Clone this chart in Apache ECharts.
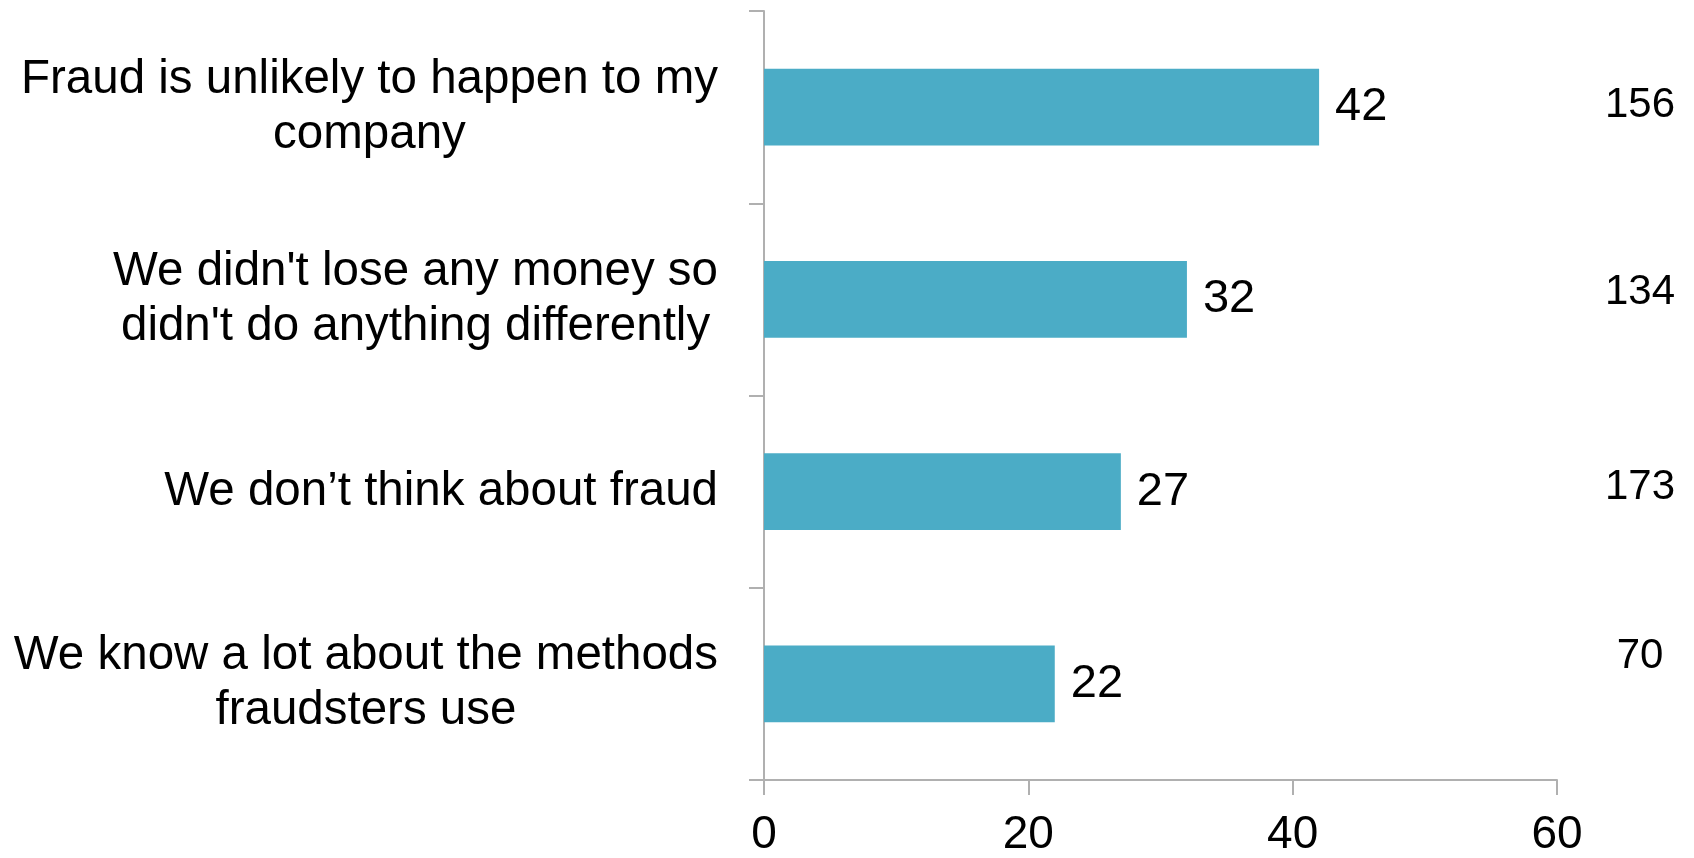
<!DOCTYPE html>
<html>
<head>
<meta charset="utf-8">
<style>
  html, body { margin: 0; padding: 0; background: #ffffff; }
  #chart { width: 1694px; height: 858px; }
</style>
<script src="https://cdn.jsdelivr.net/npm/echarts@6/dist/echarts.min.js"></script>
</head>
<body>
<div id="chart"></div>
<script>
// Reasons given, top to bottom
const categories = [
  'Fraud is unlikely to happen to my\ncompany',
  "We didn't lose any money so\ndidn't do anything differently",
  'We don\u2019t think about fraud',
  'We know a lot about the methods\nfraudsters use'
];
// Percentage of respondents
const percentages = [42, 32, 27, 22];
// Respondent counts shown in the right-hand column
const counts = ['156', '134', '173', '70'];
// Small upward nudges (px) for the right-hand counts
const countLift = [2, 7, 4, 27];
// Value axis ticks
const xTicks = { min: 0, max: 60, interval: 20 };

const FONT = '"Liberation Sans", Arial, sans-serif';
const AXIS_GREY = '#B0B0B0';

// Rich styles: each category line is centred inside its right-aligned block
const catRich = {
  c: { align: 'center', fontSize: 47.5, lineHeight: 55, color: '#000000', fontFamily: FONT }
};
// Rich styles for the counts column, one per row so each can carry its own lift
const countRich = {};
counts.forEach((c, i) => {
  countRich['n' + i] = {
    width: 100,
    align: 'center',
    fontSize: 42,
    color: '#000000',
    fontFamily: FONT,
    padding: [0, 0, countLift[i] * 2, 0]
  };
});

const chart = echarts.init(document.getElementById('chart'), null, { renderer: 'canvas' });

chart.setOption({
  backgroundColor: '#ffffff',
  animation: false,
  textStyle: { fontFamily: FONT, color: '#000000' },
  grid: {
    left: 764, right: 137, top: 11, bottom: 78,
    containLabel: false,
    outerBoundsMode: 'none'
  },
  xAxis: {
    type: 'value',
    min: xTicks.min,
    max: xTicks.max,
    interval: xTicks.interval,
    axisLine: { show: true, lineStyle: { color: AXIS_GREY, width: 2 } },
    axisTick: { show: true, inside: false, length: 15, lineStyle: { color: AXIS_GREY, width: 2 } },
    splitLine: { show: false },
    axisLabel: { fontSize: 46, color: '#000000', fontFamily: FONT, margin: 32 }
  },
  yAxis: [
    {
      type: 'category',
      inverse: true,
      data: categories,
      axisLine: { show: true, lineStyle: { color: AXIS_GREY, width: 2 } },
      axisTick: { show: true, inside: false, length: 15, lineStyle: { color: AXIS_GREY, width: 2 } },
      splitLine: { show: false },
      axisLabel: {
        align: 'right',
        margin: 46,
        formatter: (v) => v.split('\n').map((line) => '{c|' + line + '}').join('\n'),
        rich: catRich
      }
    },
    {
      type: 'category',
      inverse: true,
      position: 'right',
      data: counts,
      axisLine: { show: false },
      axisTick: { show: false },
      splitLine: { show: false },
      axisLabel: {
        align: 'left',
        margin: 33,
        formatter: (v, i) => '{n' + i + '|' + v + '}',
        rich: countRich
      }
    }
  ],
  series: [
    {
      type: 'bar',
      yAxisIndex: 0,
      data: percentages,
      barCategoryGap: '60%',
      itemStyle: { color: '#4BACC6' },
      label: {
        show: true,
        position: 'right',
        distance: 16,
        fontSize: 47,
        color: '#000000',
        fontFamily: FONT
      }
    }
  ]
});
</script>
</body>
</html>
